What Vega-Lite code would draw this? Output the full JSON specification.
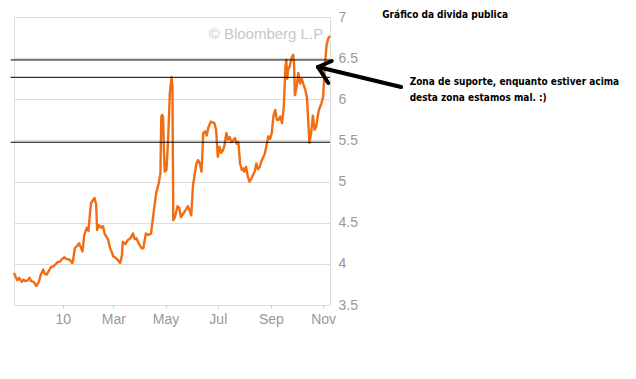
{
  "$schema": "https://vega.github.io/schema/vega-lite/v6.json",
  "width": 316,
  "height": 288,
  "autosize": {"type": "none"},
  "padding": {"left": 14, "top": 17, "right": 306, "bottom": 74},
  "background": "white",
  "config": {
    "view": {"stroke": "#dcdcdc", "strokeWidth": 1},
    "axis": {"labelFont": "Liberation Sans", "labelFontSize": 14, "labelColor": "#999999"}
  },
  "datasets": {
    "yield": [
      {"d":"2009-11-05","v":3.89},{"d":"2009-11-07","v":3.84},{"d":"2009-11-09","v":3.80},{"d":"2009-11-11","v":3.83},
      {"d":"2009-11-14","v":3.78},{"d":"2009-11-16","v":3.81},{"d":"2009-11-18","v":3.79},{"d":"2009-11-21","v":3.80},
      {"d":"2009-11-23","v":3.83},{"d":"2009-11-25","v":3.79},{"d":"2009-11-28","v":3.78},{"d":"2009-12-01","v":3.73},
      {"d":"2009-12-04","v":3.78},{"d":"2009-12-06","v":3.86},{"d":"2009-12-09","v":3.93},{"d":"2009-12-11","v":3.88},
      {"d":"2009-12-13","v":3.87},{"d":"2009-12-16","v":3.92},{"d":"2009-12-18","v":3.96},{"d":"2009-12-21","v":3.97},
      {"d":"2009-12-24","v":4.00},{"d":"2009-12-26","v":4.02},{"d":"2009-12-29","v":4.03},{"d":"2009-12-31","v":4.06},
      {"d":"2010-01-03","v":4.08},{"d":"2010-01-05","v":4.06},{"d":"2010-01-09","v":4.05},{"d":"2010-01-12","v":4.01},
      {"d":"2010-01-13","v":4.04},{"d":"2010-01-15","v":4.19},{"d":"2010-01-18","v":4.22},{"d":"2010-01-20","v":4.25},
      {"d":"2010-01-22","v":4.20},{"d":"2010-01-24","v":4.15},{"d":"2010-01-26","v":4.35},{"d":"2010-01-29","v":4.44},
      {"d":"2010-01-31","v":4.40},{"d":"2010-02-01","v":4.53},{"d":"2010-02-03","v":4.74},{"d":"2010-02-05","v":4.77},
      {"d":"2010-02-07","v":4.80},{"d":"2010-02-09","v":4.72},{"d":"2010-02-10","v":4.41},{"d":"2010-02-12","v":4.47},
      {"d":"2010-02-15","v":4.44},{"d":"2010-02-17","v":4.46},{"d":"2010-02-19","v":4.36},{"d":"2010-02-21","v":4.33},
      {"d":"2010-02-23","v":4.29},{"d":"2010-02-25","v":4.20},{"d":"2010-03-01","v":4.09},{"d":"2010-03-04","v":4.07},
      {"d":"2010-03-06","v":4.05},{"d":"2010-03-09","v":4.01},{"d":"2010-03-11","v":4.10},{"d":"2010-03-12","v":4.27},
      {"d":"2010-03-15","v":4.24},{"d":"2010-03-18","v":4.29},{"d":"2010-03-21","v":4.31},{"d":"2010-03-24","v":4.37},
      {"d":"2010-03-26","v":4.30},{"d":"2010-03-28","v":4.31},{"d":"2010-03-31","v":4.24},{"d":"2010-04-03","v":4.19},
      {"d":"2010-04-05","v":4.19},{"d":"2010-04-08","v":4.37},{"d":"2010-04-11","v":4.35},{"d":"2010-04-14","v":4.37},
      {"d":"2010-04-17","v":4.62},{"d":"2010-04-20","v":4.86},{"d":"2010-04-23","v":4.98},{"d":"2010-04-25","v":5.10},
      {"d":"2010-04-26","v":5.79},{"d":"2010-04-27","v":5.81},{"d":"2010-04-28","v":5.79},{"d":"2010-04-29","v":5.40},
      {"d":"2010-04-30","v":5.12},{"d":"2010-05-02","v":5.14},{"d":"2010-05-04","v":5.51},{"d":"2010-05-06","v":6.08},
      {"d":"2010-05-08","v":6.27},{"d":"2010-05-09","v":6.15},{"d":"2010-05-10","v":4.53},{"d":"2010-05-12","v":4.57},
      {"d":"2010-05-15","v":4.70},{"d":"2010-05-17","v":4.68},{"d":"2010-05-19","v":4.57},{"d":"2010-05-23","v":4.63},
      {"d":"2010-05-27","v":4.70},{"d":"2010-05-29","v":4.65},{"d":"2010-05-31","v":4.59},{"d":"2010-06-02","v":4.95},
      {"d":"2010-06-06","v":5.22},{"d":"2010-06-08","v":5.26},{"d":"2010-06-10","v":5.22},{"d":"2010-06-12","v":5.12},
      {"d":"2010-06-14","v":5.59},{"d":"2010-06-16","v":5.61},{"d":"2010-06-18","v":5.56},{"d":"2010-06-20","v":5.66},
      {"d":"2010-06-23","v":5.73},{"d":"2010-06-27","v":5.71},{"d":"2010-06-29","v":5.63},{"d":"2010-07-01","v":5.30},
      {"d":"2010-07-03","v":5.42},{"d":"2010-07-05","v":5.35},{"d":"2010-07-07","v":5.38},{"d":"2010-07-09","v":5.45},
      {"d":"2010-07-11","v":5.59},{"d":"2010-07-13","v":5.51},{"d":"2010-07-15","v":5.54},{"d":"2010-07-17","v":5.48},
      {"d":"2010-07-19","v":5.50},{"d":"2010-07-21","v":5.53},{"d":"2010-07-23","v":5.46},{"d":"2010-07-25","v":5.48},
      {"d":"2010-07-27","v":5.22},{"d":"2010-07-29","v":5.14},{"d":"2010-07-31","v":5.16},{"d":"2010-08-01","v":5.12},
      {"d":"2010-08-03","v":5.18},{"d":"2010-08-05","v":5.06},{"d":"2010-08-07","v":5.00},{"d":"2010-08-09","v":5.03},
      {"d":"2010-08-11","v":5.08},{"d":"2010-08-13","v":5.12},{"d":"2010-08-15","v":5.22},{"d":"2010-08-17","v":5.15},
      {"d":"2010-08-19","v":5.18},{"d":"2010-08-21","v":5.25},{"d":"2010-08-25","v":5.34},{"d":"2010-08-27","v":5.45},
      {"d":"2010-08-29","v":5.55},{"d":"2010-08-31","v":5.52},{"d":"2010-09-02","v":5.59},{"d":"2010-09-04","v":5.80},
      {"d":"2010-09-06","v":5.87},{"d":"2010-09-08","v":5.75},{"d":"2010-09-10","v":5.75},{"d":"2010-09-12","v":5.79},
      {"d":"2010-09-14","v":5.71},{"d":"2010-09-16","v":5.90},{"d":"2010-09-18","v":6.40},{"d":"2010-09-19","v":6.48},
      {"d":"2010-09-20","v":6.25},{"d":"2010-09-21","v":6.36},{"d":"2010-09-23","v":6.40},{"d":"2010-09-25","v":6.50},
      {"d":"2010-09-27","v":6.54},{"d":"2010-09-28","v":6.44},{"d":"2010-09-29","v":6.05},{"d":"2010-10-01","v":6.15},
      {"d":"2010-10-03","v":6.32},{"d":"2010-10-05","v":6.19},{"d":"2010-10-07","v":6.25},{"d":"2010-10-09","v":6.18},
      {"d":"2010-10-11","v":6.12},{"d":"2010-10-13","v":6.03},{"d":"2010-10-14","v":5.85},{"d":"2010-10-16","v":5.47},
      {"d":"2010-10-18","v":5.59},{"d":"2010-10-20","v":5.80},{"d":"2010-10-22","v":5.63},{"d":"2010-10-24","v":5.67},
      {"d":"2010-10-25","v":5.75},{"d":"2010-10-27","v":5.87},{"d":"2010-10-30","v":5.95},{"d":"2010-11-01","v":6.03},
      {"d":"2010-11-03","v":6.40},{"d":"2010-11-05","v":6.66},{"d":"2010-11-07","v":6.74},{"d":"2010-11-09","v":6.77}
    ],
    "support": [
      {"d1":"2009-11-01","d2":"2010-11-09","v":6.478},
      {"d1":"2009-11-01","d2":"2010-11-09","v":6.267},
      {"d1":"2009-11-01","d2":"2010-11-09","v":5.478}
    ],
    "arrow": [
      {"d1":"2010-10-26","v1":6.392,"d2":"2011-01-31","v2":6.149},
      {"d1":"2010-10-26","v1":6.392,"d2":"2010-11-11","v2":6.465},
      {"d1":"2010-10-26","v1":6.392,"d2":"2010-11-07","v2":6.198}
    ],
    "notes": [
      {"d":"2011-01-09","v":6.986,"t":"Gráfico da divida publica"},
      {"d":"2011-02-10","v":6.170,"t":"Zona de suporte, enquanto estiver acima"},
      {"d":"2011-02-10","v":5.980,"t":"desta zona estamos mal. :)"}
    ],
    "mark": [
      {"d":"2010-11-01","v":6.733,"t":"© Bloomberg L.P"}
    ]
  },
  "layer": [
    {
      "data": {"name": "yield"},
      "mark": {"type": "line", "color": "#f26d12", "strokeWidth": 2.4, "strokeJoin": "round"},
      "encoding": {
        "x": {"field": "d", "type": "temporal",
          "scale": {"domain": [{"year":2009,"month":11,"date":5,"utc":true},{"year":2010,"month":11,"date":9,"utc":true}], "type": "utc"},
          "axis": {"title": null, "grid": false, "domain": false, "ticks": true, "tickSize": 3, "tickColor": "#cccccc",
            "labelPadding": 4, "labelFlush": false,
            "values": [
              {"year":2010,"month":1,"date":1,"utc":true},{"year":2010,"month":3,"date":1,"utc":true},
              {"year":2010,"month":5,"date":1,"utc":true},{"year":2010,"month":7,"date":1,"utc":true},
              {"year":2010,"month":9,"date":1,"utc":true},{"year":2010,"month":11,"date":1,"utc":true}],
            "labelExpr": "utcFormat(datum.value, '%m') == '01' ? utcFormat(datum.value, '%y') : utcFormat(datum.value, '%b')"}},
        "y": {"field": "v", "type": "quantitative",
          "scale": {"domain": [3.5, 7], "nice": false, "zero": false},
          "axis": {"orient": "right", "title": null, "grid": true, "gridColor": "#dcdcdc", "domain": false, "ticks": false,
            "labelPadding": 8, "labelFlush": false, "values": [3.5,4,4.5,5,5.5,6,6.5,7], "format": "~g"}}
      }
    },
    {
      "data": {"name": "mark"},
      "mark": {"type": "text", "align": "right", "baseline": "alphabetic", "font": "Liberation Sans", "fontSize": 15, "color": "#c8c8c8", "clip": false},
      "encoding": {
        "x": {"field": "d", "type": "temporal"},
        "y": {"field": "v", "type": "quantitative"},
        "text": {"field": "t"}
      }
    },
    {
      "data": {"name": "support"},
      "mark": {"type": "rule", "color": "black", "strokeWidth": 1, "clip": false},
      "encoding": {
        "x": {"field": "d1", "type": "temporal"},
        "x2": {"field": "d2"},
        "y": {"field": "v", "type": "quantitative"}
      }
    },
    {
      "data": {"name": "arrow"},
      "mark": {"type": "rule", "color": "black", "strokeWidth": 4, "strokeCap": "round", "clip": false},
      "encoding": {
        "x": {"field": "d1", "type": "temporal"},
        "x2": {"field": "d2"},
        "y": {"field": "v1", "type": "quantitative"},
        "y2": {"field": "v2"}
      }
    },
    {
      "data": {"name": "notes"},
      "mark": {"type": "text", "align": "left", "baseline": "alphabetic", "font": "DejaVu Sans Condensed", "fontWeight": "bold", "fontSize": 10, "color": "black", "clip": false},
      "encoding": {
        "x": {"field": "d", "type": "temporal"},
        "y": {"field": "v", "type": "quantitative"},
        "text": {"field": "t"}
      }
    }
  ]
}
